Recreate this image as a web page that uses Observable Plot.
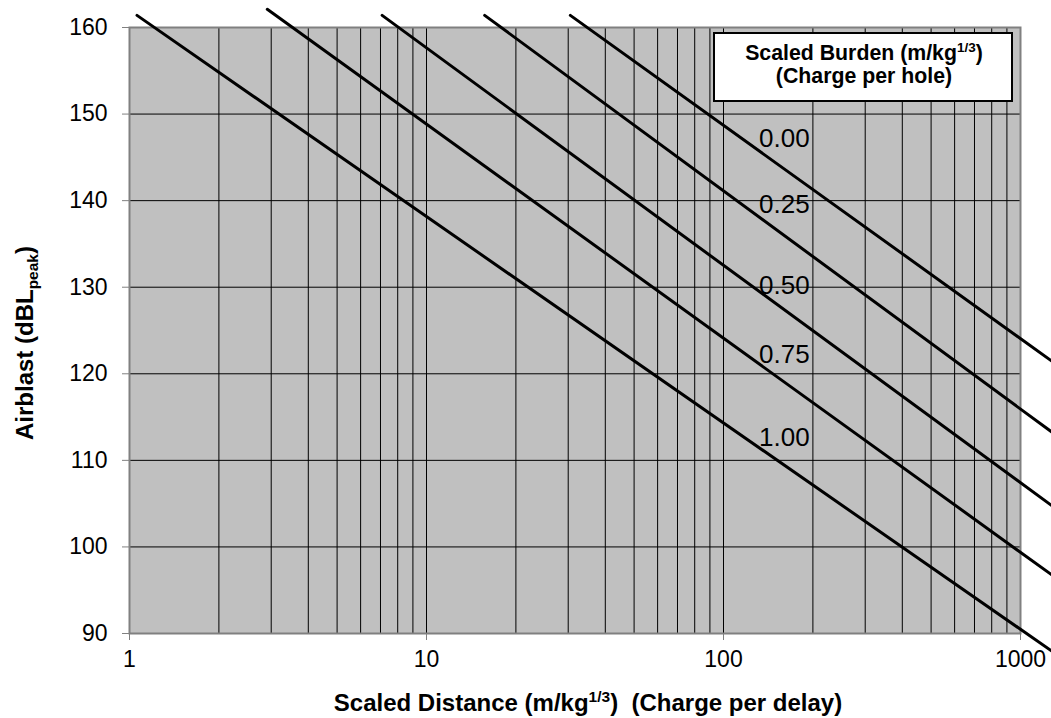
<!DOCTYPE html>
<html>
<head>
<meta charset="utf-8">
<script src="https://cdn.jsdelivr.net/npm/d3@7"></script>
<script src="https://cdn.jsdelivr.net/npm/@observablehq/plot@0.6"></script>
<style>
  html, body { margin: 0; padding: 0; background: white; }
  svg { display: block; }
</style>
</head>
<body>
<div id="chart"></div>
<script>
// ---- data ----
const burden = ["0.00", "0.25", "0.50", "0.75", "1.00"];
const startDist = [30.5, 15.7, 7.09, 2.91, 1.06];
const startLevel = [161.4, 161.4, 161.4, 162.1, 161.4];
const endDist = [1271, 1271, 1271, 1271, 1271];
const endLevel = [121.5, 113.3, 104.8, 96.8, 88.0];
const labelLevel = [147.2, 139.5, 130.2, 122.2, 112.6];
const labelDist = 195;
const xTicks = [1, 10, 100, 1000];
const yTicks = [90, 100, 110, 120, 130, 140, 150, 160];
const gridX = [2, 3, 4, 5, 6, 7, 8, 9, 10, 20, 30, 40, 50, 60, 70, 80, 90, 100, 200, 300, 400, 500, 600, 700, 800, 900];
const gridY = [100, 110, 120, 130, 140, 150];

const rows = burden.flatMap((b, i) => [
  {b, x: startDist[i], y: startLevel[i]},
  {b, x: endDist[i], y: endLevel[i]}
]);

const font = "'Liberation Sans', Arial, Helvetica, sans-serif";

const svg = Plot.plot({
  width: 1051,
  height: 718,
  marginLeft: 129,
  marginRight: 31,
  marginTop: 27,
  marginBottom: 85,
  style: {fontFamily: font, fontSize: "23px", background: "white", color: "black", overflow: "visible"},
  x: {type: "log", domain: [1, 1000]},
  y: {domain: [90, 160]},
  marks: [
    Plot.frame({fill: "#c0c0c0"}),
    Plot.ruleX(gridX, {stroke: "#000", strokeWidth: 1}),
    Plot.ruleY(gridY, {stroke: "#000", strokeWidth: 1}),
    Plot.frame({stroke: "#808080", strokeWidth: 2}),
    Plot.axisX({ticks: xTicks, tickFormat: d => String(d), tickSize: 7, tickPadding: 10,
      stroke: "#808080", fill: "black", fontSize: 23, label: null}),
    Plot.axisY({ticks: yTicks, tickFormat: d => String(d), tickSize: 7, tickPadding: 15,
      stroke: "#808080", fill: "black", fontSize: 23, label: null}),
    Plot.line(rows, {x: "x", y: "y", z: "b", stroke: "black", strokeWidth: 3}),
    Plot.text(burden, {x: () => labelDist, y: (d, i) => labelLevel[i], text: d => d,
      textAnchor: "end", lineAnchor: "middle", fontSize: 26, fill: "black"})
  ]
});

document.getElementById("chart").appendChild(svg);

const s = d3.select(svg);

// legend box
s.append("rect")
  .attr("x", 714).attr("y", 33).attr("width", 298).attr("height", 68)
  .attr("fill", "white").attr("stroke", "black").attr("stroke-width", 2);

const l1 = s.append("text")
  .attr("x", 864).attr("y", 60).attr("text-anchor", "middle")
  .attr("font-family", font).attr("font-weight", "bold").attr("font-size", 21.3).attr("fill", "black");
l1.append("tspan").text("Scaled Burden (m/kg");
l1.append("tspan").attr("dy", -8).attr("font-size", 13.5).text("1/3");
l1.append("tspan").attr("dy", 8).text(")");

s.append("text")
  .attr("x", 864).attr("y", 83).attr("text-anchor", "middle")
  .attr("font-family", font).attr("font-weight", "bold").attr("font-size", 21.3).attr("fill", "black")
  .text("(Charge per hole)");

// x axis title
const xt = s.append("text")
  .attr("x", 588).attr("y", 711).attr("text-anchor", "middle")
  .attr("font-family", font).attr("font-weight", "bold").attr("font-size", 24).attr("fill", "black")
  .style("white-space", "pre");
xt.append("tspan").text("Scaled Distance (m/kg");
xt.append("tspan").attr("dy", -9).attr("font-size", 15.5).text("1/3");
xt.append("tspan").attr("dy", 9).text(")  (Charge per delay)");

// y axis title
const yt = s.append("text")
  .attr("transform", "translate(33,343) rotate(-90)").attr("text-anchor", "middle")
  .attr("font-family", font).attr("font-weight", "bold").attr("font-size", 24).attr("fill", "black");
yt.append("tspan").text("Airblast (dBL");
yt.append("tspan").attr("dy", 5).attr("font-size", 15.5).text("peak");
yt.append("tspan").attr("dy", -5).text(")");
</script>
</body>
</html>
